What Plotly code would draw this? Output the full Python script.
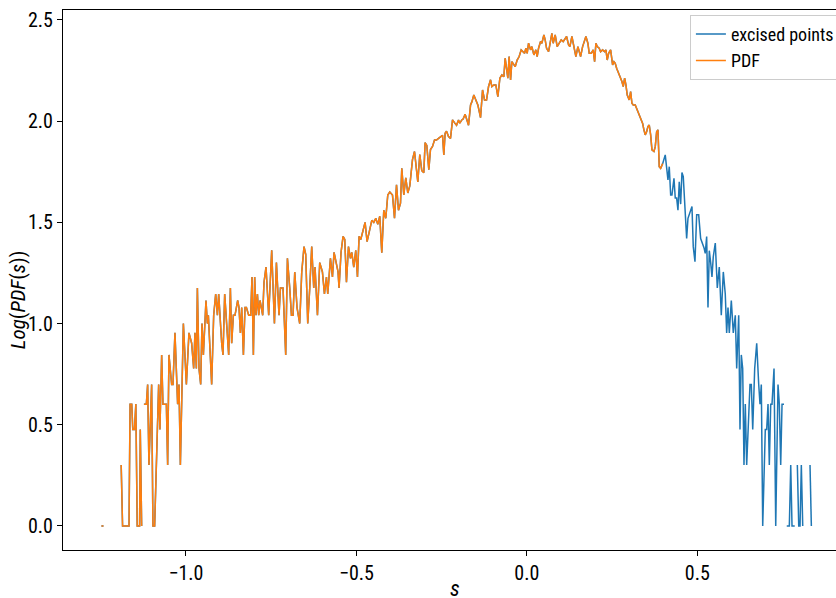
import plotly.graph_objects as go

# s values (x) and log10 PDF values (y); None marks empty bins (log of zero)
s_values = [
    -1.248, -1.242, None,
    -1.190, -1.186, -1.178, -1.174, -1.167, -1.164, -1.159, -1.156, -1.151, -1.147, -1.143, -1.139, -1.136, -1.134, -1.130, None,
    -1.1233, -1.1162, -1.1124, -1.1086, -1.1007, -1.0969, -1.0919, -1.0822, -1.0801, -1.0763,
    -1.0713, -1.0675, -1.0625, -1.0575, -1.0537, -1.0499, -1.0420, -1.0381, -1.0323, -1.0244,
    -1.0205, -1.0164, -1.0076, -1.0029, -0.9988, -0.9912, -0.9833, -0.9774, -0.9736, -0.9695,
    -0.9665, -0.9618, -0.9568, -0.9530, -0.9489, -0.9413, -0.9372, -0.9343, -0.9246, -0.9187,
    -0.9128, -0.9078, -0.9040, -0.8952, -0.8914, -0.8864, -0.8805, -0.8747, -0.8697, -0.8659,
    -0.8609, -0.8562, -0.8483, -0.8444, -0.8403, -0.8365, -0.8315, -0.8268, -0.8227, -0.8160,
    -0.8101, -0.8063, -0.8022, -0.7984, -0.7945, -0.7904, -0.7866, -0.7828, -0.7749, -0.7711,
    -0.7652, -0.7573, -0.7485, -0.7405, -0.7347, -0.7270, -0.7229, -0.7153, -0.7074, -0.7024,
    -0.6956, -0.6906, -0.6859, -0.6809, -0.6742, -0.6663, -0.6604, -0.6537, -0.6487, -0.6428,
    -0.6369, -0.6311, -0.6252, -0.6214, -0.6143, -0.6076, -0.5997, -0.5938, -0.5879, -0.5841,
    -0.5762, -0.5703, -0.5656, -0.5586, -0.5539, -0.5509, -0.5451, -0.5392, -0.5342, -0.5292,
    -0.5233, -0.5175, -0.5136, -0.5078, -0.5019, -0.4969, -0.4922, -0.4872, -0.4822, -0.4746,
    -0.4687, -0.4608, -0.4549, -0.4491, -0.4432, -0.4373, -0.4315, -0.4256, -0.4197, -0.4139,
    -0.4080, -0.4021, -0.3942, -0.3883, -0.3824, -0.3766, -0.3707, -0.3669, -0.3610, -0.3552,
    -0.3493, -0.3434, -0.3355, -0.3296, -0.3258, -0.3199, -0.3141, -0.3082, -0.3023, -0.2985,
    -0.2935, -0.2876, -0.2827, -0.2768, -0.2709, -0.2650, -0.2592, -0.2533, -0.2474, -0.2436,
    -0.2398, -0.2357, -0.2298, -0.2240,
    -0.2181, -0.2113, -0.2063, -0.2005, -0.1967, -0.1908, -0.1870, -0.1811, -0.1752, -0.1711,
    -0.1652, -0.1614, -0.1556, -0.1497, -0.1438, -0.1359, -0.1300, -0.1242, -0.1183, -0.1124,
    -0.1065, -0.1027, -0.0969, -0.0910, -0.0851, -0.0792, -0.0734, -0.0675, -0.0637, -0.0596,
    -0.0558, -0.0520, -0.0478, -0.0440, -0.0402, -0.0343, -0.0285, -0.0226, -0.0167, -0.0109,
    -0.0068, -0.0029, 0.0009, 0.0050, 0.0109, 0.0147, 0.0205, 0.0264, 0.0302, 0.0343,
    0.0402, 0.0440, 0.0499, 0.0537, 0.0578, 0.0637, 0.0696, 0.0734, 0.0772, 0.0831,
    0.0889, 0.0948, 0.1007, 0.1065, 0.1124, 0.1165, 0.1224,
    0.1262, 0.1321, 0.1380, 0.1438, 0.1497, 0.1535, 0.1576, 0.1635, 0.1694, 0.1732,
    0.1790, 0.1829, 0.1887, 0.1946, 0.1987, 0.2025, 0.2063, 0.2122, 0.2163, 0.2222,
    0.2281, 0.2319, 0.2357, 0.2398, 0.2457, 0.2515, 0.2554, 0.2592, 0.2633, 0.2692,
    0.2750, 0.2788, 0.2827, 0.2868, 0.2906, 0.2944, 0.3003, 0.3044, 0.3082, 0.3120,
    0.3179, 0.3237, 0.3296, 0.3337, 0.3396, 0.3434, 0.3472, 0.3513, 0.3551, 0.3590,
    0.3631, 0.3669, 0.3728, 0.3766, 0.3807, 0.3845, 0.3883, 0.3924, 0.3983,
    0.4059, 0.4139, 0.4177, 0.4218, 0.4256, 0.4315, 0.4353, 0.4394, 0.4432, 0.4470,
    0.4511, 0.4549, 0.4588, 0.4646, 0.4687, 0.4726, 0.4784, 0.4843, 0.4881, 0.4931,
    0.4981, 0.5040, 0.5098, 0.5157, 0.5195, 0.5233, 0.5274, 0.5313, 0.5351, 0.5392,
    0.5430, 0.5468, 0.5527, 0.5586, 0.5644, 0.5703, 0.5762, 0.5820, 0.5861, 0.5900,
    0.5938, 0.5997, 0.6055, 0.6114, 0.6155, 0.6214, 0.6252, 0.6290, 0.6331, 0.6369,
    0.6407, 0.6448, 0.6507, 0.6545, 0.6584, 0.6625, 0.6683, 0.6742, 0.6801, 0.6839,
    0.6877, 0.6918, 0.6994, 0.7035, 0.7074, 0.7112, 0.7153, 0.7191, 0.7250, 0.7300,
    0.7367, 0.7405, 0.7446, 0.7485, 0.7543, None,
    0.7623, 0.7661, 0.7699, 0.7740, 0.7778, 0.7816, 0.7857, None,
    0.7934, 0.7975, 0.8013, 0.8051, 0.8092, None,
    0.8306, 0.8345,
]

log_pdf = [
    0, 0, None,
    0.301, 0, 0, 0, 0, 0.602, 0.602, 0.477, 0.477, 0.602, 0, 0, 0, 0.477, 0, None,
    0.602, 0.602, 0.699, 0.301, 0.699, 0, 0, 0.602, 0.699, 0.477,
    0.845, 0.602, 0.602, 0.602, 0.301, 0.845, 0.699, 0.699, 0.954, 0.602,
    0.699, 0.301, 1.0, 0.845, 0.699, 0.954, 0.903, 0.778, 0.954, 0.778,
    1.176, 0.778, 0.699, 1.0, 0.845, 1.114, 1.0, 1.041, 0.699, 1.041,
    1.146, 1.041, 1.146, 0.903, 0.845, 1.146, 1.0, 0.845, 1.176, 0.903,
    1.041, 1.041, 1.114, 1.079, 0.954, 1.079, 0.845, 1.079, 1.079, 1.041,
    1.041, 1.230, 0.845, 1.230, 1.041, 1.146, 1.041, 1.114, 1.041, 1.204,
    1.279, 1.041, 1.362, 1.0, 1.301, 1.041, 1.176, 1.176, 0.845, 1.322,
    1.176, 1.041, 1.041, 1.255, 1.079, 1.0, 1.255, 1.380, 1.342, 1.0,
    1.176, 1.380, 1.176, 1.279, 1.041, 1.301, 1.255, 1.146, 1.230, 1.146,
    1.322, 1.230, 1.352, 1.301, 1.255, 1.176, 1.352, 1.431, 1.415, 1.204,
    1.380, 1.322, 1.352, 1.279, 1.362, 1.230, 1.431, 1.415, 1.455, 1.50,
    1.405, 1.47, 1.51, 1.50, 1.52, 1.49, 1.53, 1.35, 1.56, 1.52,
    1.635, 1.65, 1.635, 1.52, 1.685, 1.56, 1.595, 1.767, 1.635, 1.72,
    1.645, 1.68, 1.81, 1.85, 1.78, 1.70, 1.835, 1.755, 1.745, 1.894,
    1.88, 1.76, 1.86, 1.875, 1.907, 1.907, 1.915, 1.924, 1.93, 1.833,
    1.94, 1.95, 1.924, 1.915,
    2.006, 1.99, 1.98, 2.006, 1.99, 2.006, 2.01, 2.034, 2.006, 1.98,
    2.080, 2.095, 2.129, 2.105, 2.080, 2.017, 2.154, 2.105, 2.105, 2.171,
    2.204, 2.171, 2.179, 2.179, 2.121, 2.212, 2.228, 2.220, 2.311, 2.261,
    2.212, 2.319, 2.204, 2.294, 2.286, 2.269, 2.302, 2.319, 2.352, 2.343,
    2.335, 2.360, 2.335, 2.385, 2.352, 2.368, 2.327, 2.352, 2.319, 2.360,
    2.393, 2.385, 2.426, 2.401, 2.360, 2.343, 2.401, 2.434, 2.385, 2.426,
    2.368, 2.385, 2.401, 2.393, 2.409, 2.418, 2.377,
    2.368, 2.418, 2.360, 2.319, 2.368, 2.343, 2.319, 2.368, 2.401, 2.418,
    2.385, 2.335, 2.335, 2.352, 2.294, 2.385, 2.368, 2.360, 2.343, 2.352,
    2.343, 2.352, 2.302, 2.335, 2.352, 2.278, 2.294, 2.286, 2.261, 2.237,
    2.212, 2.196, 2.171, 2.212, 2.179, 2.129, 2.105, 2.146, 2.088, 2.080,
    2.080, 2.055, 2.030, 2.006, 1.989, 1.957, 1.932, 1.948, 1.973, 1.981,
    1.932, 1.858, 1.850, 1.874, 1.948, 1.957, 1.775, 1.767, 1.790,
    1.833, 1.71, 1.775, 1.635, 1.635, 1.717, 1.62, 1.62, 1.56, 1.70,
    1.59, 1.746, 1.726, 1.545, 1.42, 1.52, 1.545, 1.578, 1.38, 1.306,
    1.537, 1.537, 1.42, 1.398, 1.375, 1.347, 1.43, 1.079, 1.36, 1.301,
    1.23, 1.33, 1.398, 1.176, 1.279, 1.041, 1.255, 1.146, 0.954, 1.079,
    0.954, 1.114, 0.954, 1.041, 0.778, 1.041, 0.477, 0.845, 0.778, 0.301,
    0.602, 0.301, 0.602, 0.699, 0.699, 0.477, 0.778, 0.903, 0.699, 0.602,
    0.699, 0, 0.477, 0.477, 0.602, 0.301, 0.602, 0.602, 0.778, 0,
    0.699, 0.602, 0.301, 0.602, 0.602, None,
    0, 0, 0, 0.301, 0, 0, 0, None,
    0.301, 0, 0, 0.301, 0, None,
    0.301, 0,
]

pdf_cutoff = 0.4  # points beyond this s are excised

x_ticks = [-1.0, -0.5, 0.0, 0.5]
x_tick_labels = ["\u22121.0", "\u22120.5", "0.0", "0.5"]
y_ticks = [0.0, 0.5, 1.0, 1.5, 2.0, 2.5]
y_tick_labels = ["0.0", "0.5", "1.0", "1.5", "2.0", "2.5"]

# split: PDF = kept points, excised = full set (drawn beneath)
n_keep = next(i for i, s in enumerate(s_values) if s is not None and s > pdf_cutoff)
pdf_s = s_values[:n_keep]
pdf_y = log_pdf[:n_keep]

FONT = "Liberation Sans Narrow, Roboto Condensed, Arial Narrow, DejaVu Sans Condensed, sans-serif"

fig = go.Figure()
fig.add_trace(go.Scatter(x=s_values, y=log_pdf, mode="lines", name="excised points",
                         line=dict(color="#1f77b4", width=1.5), connectgaps=False))
fig.add_trace(go.Scatter(x=pdf_s, y=pdf_y, mode="lines", name="PDF",
                         line=dict(color="#ff7f0e", width=1.5), connectgaps=False))

fig.update_layout(
    width=836, height=598,
    margin=dict(l=63, r=0, t=10, b=48, autoexpand=False),
    plot_bgcolor="white", paper_bgcolor="white",
    font=dict(family=FONT, size=20, color="black"),
    showlegend=True,
    legend=dict(x=0.811, y=0.991, xanchor="left", yanchor="top",
                bordercolor="#cccccc", borderwidth=1, bgcolor="rgba(255,255,255,0.8)",
                font=dict(family=FONT, size=18), tracegroupgap=0),
    xaxis=dict(range=[-1.3607, 0.9068], tickvals=x_ticks, ticktext=x_tick_labels,
               ticks="outside", ticklen=5, tickwidth=1, tickcolor="black",
               showline=True, linecolor="black", linewidth=1, mirror=True,
               showgrid=False, zeroline=False, tickfont=dict(size=20)),
    yaxis=dict(range=[-0.1186, 2.549], tickvals=y_ticks, ticktext=y_tick_labels,
               ticks="outside", ticklen=5, tickwidth=1, tickcolor="black",
               showline=True, linecolor="black", linewidth=1, mirror=False,
               showgrid=False, zeroline=False, tickfont=dict(size=20)),
    annotations=[
        dict(text="<i>s</i>", xref="paper", yref="paper", x=0.507, y=-0.072,
             xanchor="center", yanchor="middle", showarrow=False,
             font=dict(family=FONT, size=22)),
        dict(text="<i>Log</i>(<i>PDF</i>(<i>s</i>))", xref="paper", yref="paper",
             x=-0.058, y=0.463, xanchor="center", yanchor="middle", textangle=-90,
             showarrow=False, font=dict(family=FONT, size=21)),
    ],
)

fig.write_html("out.html")
